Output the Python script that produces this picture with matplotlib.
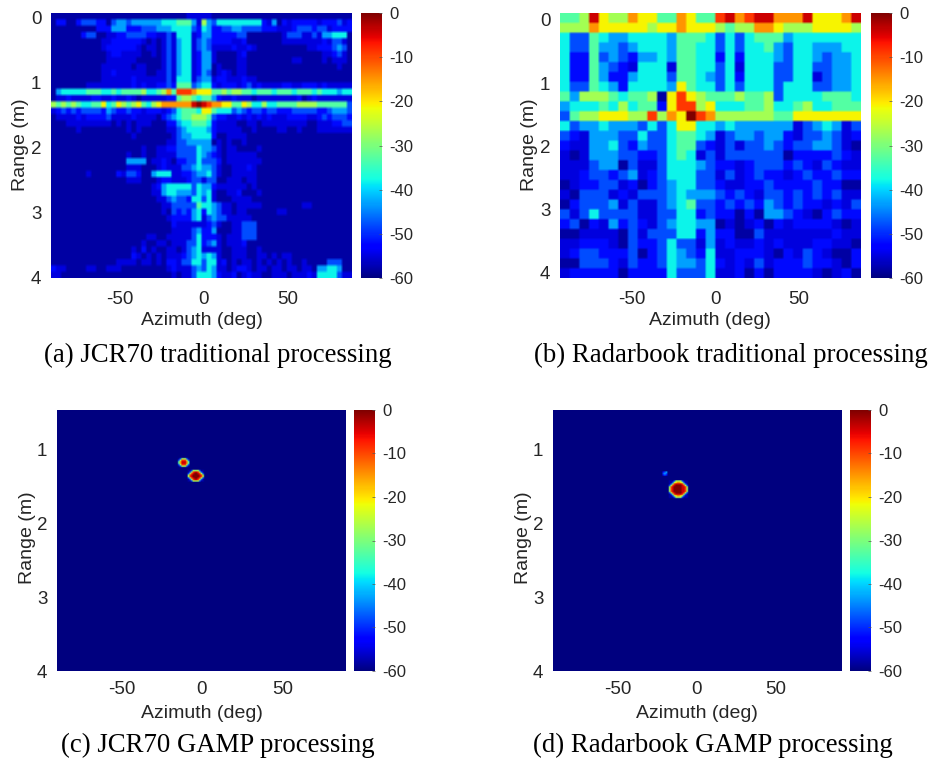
import numpy as np
import matplotlib
matplotlib.use('Agg')
import matplotlib.pyplot as plt

plt.rcParams['font.family'] = ['Liberation Sans', 'DejaVu Sans']
plt.rcParams['axes.unicode_minus'] = False

W = 932
H = 762
TXT = '#262626'

# each character is one cell, hex index into level_db
level_db = [-58, -55, -52, -48, -43, -38, -33, -27, -21, -15, -9, -4, 0]

jcr_trad_left = [
    "00000 00000 00000 00000 00000 00111",
    "02200 23332 20344 34444 44555 66641",
    "00000 00002 22444 22233 34445 55532",
    "00000 02330 01122 33332 21131 55512",
    "00000 00000 11222 22210 10131 45513",
    "00000 00000 12222 22101 10131 45513",
    "00000 00000 01221 11100 10131 45512",
    "00000 00000 01111 11000 00131 45512",
    "00000 00000 11111 10110 00131 45512",
    "00000 00000 11211 11110 01131 45512",
    "00000 00000 11111 12111 11131 55513",
    "00000 00111 11111 12121 12232 66634",
    "04555 55666 55656 66675 56796 aaa98",
    "01121 11122 11211 21011 11122 67765",
    "76767 65566 85687 67865 78999 999bc",
    "12323 23333 24322 32212 22123 56665",
    "01111 21222 23111 12111 10234 56677",
    "00011 11111 11010 10111 00022 45566",
    "00000 10000 00000 10100 00011 34555",
    "00000 00000 00000 01000 00001 34455",
    "00000 00000 00000 00000 00011 33444",
    "00000 00000 00000 00010 01122 33335",
    "00000 00000 00000 10010 01111 33335",
    "00000 00000 00000 44440 11210 22335",
    "00000 00000 00000 11100 01211 13345",
    "00000 00100 00021 33200 45551 12234",
    "00000 00000 00000 11100 01221 11233",
    "00000 00000 00000 00000 12455 55535",
    "00000 00000 00000 00000 11455 44435",
    "00000 00000 00000 00000 01134 33255",
    "00000 00000 00000 00000 00113 33336",
    "00000 00000 00000 00000 00103 23245",
    "00000 00000 00000 00000 00012 22245",
    "00000 00000 00000 00000 00002 11111",
    "00000 00000 00000 00000 00001 11134",
    "00000 00000 00000 00001 10011 11135",
    "00000 00000 00000 00010 01101 11335",
    "00000 00000 00000 01020 10011 01345",
    "00000 00000 00000 02101 01011 12345",
    "00000 00000 00011 11011 01022 13355",
    "21100 00110 01110 00000 00012 11134",
    "11000 00000 00000 00000 00001 01135",
]
jcr_trad_right = [
    "11000 00000 00000 00000 00000 00000",
    "74355 55555 55214 02122 22212 22312",
    "54223 34433 33222 11123 33233 12222",
    "44222 22330 00000 01333 11314 45550",
    "43222 21120 00000 01111 11112 13310",
    "43111 12112 10000 00000 01122 23430",
    "44100 00120 00000 00000 00001 12310",
    "44100 00110 00000 00011 00001 01110",
    "44010 00110 00000 00000 00000 00100",
    "43012 10110 00000 00000 00000 00000",
    "44122 11121 10000 00000 00000 00000",
    "55212 22123 12111 12211 22212 11111",
    "88667 67766 56665 66656 66565 55455",
    "66421 12111 01111 11112 01211 11111",
    "ba998 86687 55755 66667 77766 66663",
    "88655 53432 33233 22233 33322 34443",
    "76322 11212 12121 11222 21123 23332",
    "65211 11001 10111 11111 10011 12233",
    "54211 11100 10000 11001 00011 11111",
    "55200 11110 00000 00000 00000 00000",
    "44010 10010 00000 00000 00000 00000",
    "44310 11000 01000 00000 00000 00000",
    "43210 11111 10000 00000 00000 00000",
    "33320 11111 11000 00000 00000 00000",
    "44310 01112 10000 00000 00000 00000",
    "45310 01111 10000 00000 00000 00000",
    "13300 11101 10000 00000 00000 00000",
    "44211 11110 10000 00000 00000 00000",
    "45100 11200 01000 00000 00000 00000",
    "35100 01111 00000 00000 00000 00000",
    "55431 10111 11000 00000 11000 00000",
    "25431 10110 00000 11000 00000 00000",
    "13433 11111 00000 00000 00000 00000",
    "12310 01133 30000 00000 00000 00000",
    "22400 01133 30000 00000 00000 00000",
    "22210 11133 30000 00000 00000 00000",
    "23410 11120 00000 00000 00000 00000",
    "11110 01110 01000 00000 00000 00000",
    "45410 01110 01101 01100 00000 00000",
    "35512 01011 01010 10100 10000 33300",
    "35411 01221 01101 10110 11044 55400",
    "55421 12012 11001 11011 12155 55311",
]
radarbook_trad = [
    "667b8 77988 66986 6ab9a bb999 b8889 b",
    "77798 88887 88988 87677 99877 78888 7",
    "53365 44555 54666 53535 66645 55555 5",
    "53364 43455 54665 53535 56435 54445 5",
    "52263 43244 54665 52525 55435 54344 5",
    "52264 32155 51665 53515 55335 53344 5",
    "52264 22455 53665 43525 55335 51344 5",
    "53365 42555 54865 53535 55355 53344 5",
    "64777 65667 08a87 66676 67355 55666 5",
    "45556 57566 28aa7 85556 67556 75566 6",
    "36778 8877a 798ca 97777 77668 88888 8",
    "53445 44435 35885 54544 44441 34541 3",
    "32144 43353 35665 41344 34421 33431 2",
    "21144 53243 35663 21313 34323 34431 0",
    "10144 43322 35651 31333 33302 22232 1",
    "11134 40311 35554 32212 33323 21321 1",
    "11233 23412 35553 31312 32212 32232 2",
    "01223 31202 34553 32112 23222 23220 0",
    "10333 12133 34544 43232 13323 23231 1",
    "02333 41311 34563 32323 24323 22121 3",
    "31353 33311 33552 32202 04432 10232 2",
    "23021 42321 34554 40101 20212 22210 1",
    "00111 10313 33552 42200 31111 11121 1",
    "11222 10322 35331 41211 21211 12211 0",
    "12332 22302 35432 51122 21021 32100 2",
    "00333 21322 35443 52121 31222 32210 2",
    "12222 20222 25333 51120 20222 21012 0",
]

# GAMP output is -60 dB except for these small spots (1 deg x 0.02 m cells)
spot_c1 = ["0377730", "37aaa73", "69bbb96", "69bbb96", "37aaa73", "0377730"]
spot_c2 = ["0037777300", "037abba730", "37abccba73", "7abccccba7",
           "7abccccba7", "37abccba73", "037abba730", "0037777300"]
spot_d1 = ["000377773000", "003789987300", "037abbbba730", "37abccccba73",
           "7abcccccbba7", "7abcccccbba7", "7abcccccbba7", "7abcccccbba7",
           "37abccccba73", "037abbbba730", "003789987300", "000377773000"]
spot_d2 = ["234", "343", "232"]

spots_c = [(spot_c1, -12.4, 1.18), (spot_c2, -4.3, 1.35)]
spots_d = [(spot_d1, -12.6, 1.54), (spot_d2, -21.5, 1.32)]

az_ticks = [-50, 0, 50]
cbar_ticks = [0, -10, -20, -30, -40, -50, -60]


def to_db(rows):
    return np.array([[level_db[int(ch, 16)] for ch in r.replace(' ', '')] for r in rows], dtype=float)


def gamp_map(spots):
    az = np.arange(-92, 92, 1.0)
    rng = np.arange(0.4, 4.1, 0.02)
    z = np.full((len(rng), len(az)), -60.0)
    for rows, a0, r0 in spots:
        s = to_db(rows)
        i = np.searchsorted(rng, r0) - s.shape[0] // 2
        j = np.searchsorted(az, a0) - s.shape[1] // 2
        z[i:i + s.shape[0], j:j + s.shape[1]] = s
    return z, (az[0], az[-1] + 1, rng[-1] + 0.02, rng[0])


def box(l, t, r, b):
    return [l / W, 1 - b / H, (r - l) / W, (b - t) / H]


def panel(z, ext, ax_px, cb_px, xlim, ylim, yticks, lab_x, lab_y, cap, cap_xy, soft, xpad):
    ax = fig.add_axes(box(*ax_px))
    # repeat the cells so the bilinear resampling only softens their edges
    im = ax.imshow(np.kron(z, np.ones((soft, soft))), cmap='jet', vmin=-60, vmax=0, extent=ext,
                   aspect='auto', interpolation='bilinear', interpolation_stage='rgba')
    ax.set_xlim(xlim)
    ax.set_ylim(ylim)
    ax.set_xticks(az_ticks)
    ax.set_yticks(yticks)
    ax.tick_params(length=0, labelsize=13.5, labelcolor=TXT)
    ax.tick_params(axis='y', pad=7)
    ax.tick_params(axis='x', pad=xpad)
    for s in ax.spines.values():
        s.set_visible(False)

    cax = fig.add_axes(box(*cb_px))
    cb = fig.colorbar(im, cax=cax)
    cb.set_ticks(cbar_ticks)
    cb.ax.tick_params(length=2, width=0.5, direction='in', color='#555555', labelsize=12, labelcolor=TXT, pad=5)
    cb.outline.set_visible(False)

    fig.text(lab_x[0] / W, 1 - lab_x[1] / H, 'Azimuth (deg)', fontsize=14, color=TXT, ha='center', va='center')
    fig.text(lab_y[0] / W, 1 - lab_y[1] / H, 'Range (m)', fontsize=14, color=TXT, ha='center', va='center', rotation=90)
    fig.text(cap_xy[0] / W, 1 - cap_xy[1] / H, cap, fontsize=19.3, ha='center', va='center',
             family='Liberation Serif', color='black')


fig = plt.figure(figsize=(W / 100, H / 100), dpi=100)

z_a = np.hstack([to_db(jcr_trad_left), to_db(jcr_trad_right)])
panel(z_a, (-91, 88.5, 4.0, -0.07), (51, 13, 352, 278), (361, 13, 382, 278), (-91, 88.5), (4.0, -0.07),
      [0, 1, 2, 3, 4], (202, 321), (21, 145), '(a) JCR70 traditional processing', (218, 355), 2, 9)

z_b = to_db(radarbook_trad)
panel(z_b, (-93, 87.5, 4.08, -0.11), (560, 13, 861, 278), (871, 13, 892, 278), (-93, 87.5), (4.08, -0.11),
      [0, 1, 2, 3, 4], (710, 321), (529, 145), '(b) Radarbook traditional processing', (731, 355), 4, 9)

z_c, ext_c = gamp_map(spots_c)
panel(z_c, ext_c, (57, 410, 345, 671), (354, 410, 375, 671), (-90, 89), (4.0, 0.47),
      [1, 2, 3, 4], (202, 713), (28, 538), '(c) JCR70 GAMP processing', (218, 745), 1, 7)

z_d, ext_d = gamp_map(spots_d)
panel(z_d, ext_d, (553, 410, 841, 671), (850, 410, 871, 671), (-91, 91), (4.0, 0.47),
      [1, 2, 3, 4], (697, 713), (524, 538), '(d) Radarbook GAMP processing', (713, 745), 1, 7)

plt.savefig('out.png', dpi=100)
